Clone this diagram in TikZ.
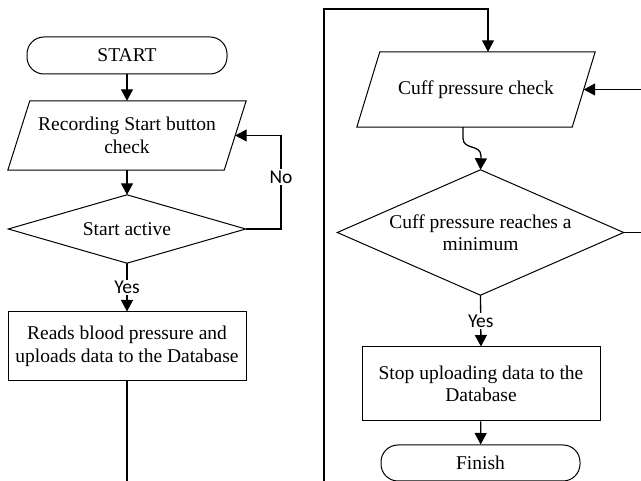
\documentclass[tikz,border=0pt]{standalone}
\usepackage{fontspec}
\setmainfont{Liberation Serif}
\newfontfamily\lblfont{Carlito}
\usetikzlibrary{arrows.meta}
\begin{document}
\begin{tikzpicture}[x=1pt,y=-1pt,
  txt/.style={font=\fontsize{19.5}{22.5}\selectfont, align=center, inner sep=0pt},
  shp/.style={draw=black, line width=1pt},
  term/.style={txt, draw, line width=1pt, rounded corners=17pt},
  proc/.style={txt, draw, line width=1pt},
  ghost/.style={txt, draw=none},
  conn/.style={line width=1.3pt, -{Triangle[length=11.5pt,width=12pt]}},
  plain/.style={line width=1.3pt},
  lbl/.style={font=\lblfont\fontsize{19.5}{22}\selectfont, fill=white, inner sep=1.5pt}
]
\useasboundingbox (0,0) rectangle (641,481);
\clip (0,0) rectangle (641,481);

% left column
\node[term, minimum width=200pt, minimum height=37pt] (start) at (127,55.5) {START};
\node[ghost, minimum width=216pt, minimum height=69pt] (rec) at (127,135.5) {Recording Start button\\check};
\draw[shp] ([xshift=11pt]rec.north west) -- ([xshift=11pt]rec.north east) -- ([xshift=-11pt]rec.south east) -- ([xshift=-11pt]rec.south west) -- cycle;
\node[ghost, minimum width=237pt, minimum height=68pt] (sa) at (127,229) {Start active};
\draw[shp] (sa.north) -- (sa.east) -- (sa.south) -- (sa.west) -- cycle;
\node[proc, minimum width=238pt, minimum height=69pt] (reads) at (127,346.5) {Reads blood pressure and\\uploads data to the Database};

% right column
\node[ghost, minimum width=215pt, minimum height=75pt] (cuff) at (476,89.5) {Cuff pressure check};
\draw[shp] ([xshift=11.5pt]cuff.north west) -- ([xshift=11.5pt]cuff.north east) -- ([xshift=-11.5pt]cuff.south east) -- ([xshift=-11.5pt]cuff.south west) -- cycle;
\node[ghost, minimum width=286pt, minimum height=125pt] (cm) at (480.5,232.5) {Cuff pressure reaches a\\minimum};
\draw[shp] (cm.north) -- (cm.east) -- (cm.south) -- (cm.west) -- cycle;
\node[proc, minimum width=238pt, minimum height=74pt] (stop) at (481,384) {Stop uploading data to the\\Database};
\node[term, minimum width=199pt, minimum height=36pt] (fin) at (480.5,463) {Finish};

% free ends
\coordinate (lb) at (127,495);
\coordinate (rb) at (324,495);
\coordinate (tl) at (324,9);
\coordinate (tr) at (488,9);
\coordinate (re1) at (660,232.5);
\coordinate (re2) at (660,89.5);
\coordinate (nbot) at (281,229);
\coordinate (ntop) at (281,135.5);

% connectors
\draw[conn] (start) -- (rec);
\draw[conn] (rec) -- (sa);
\draw[conn] (sa.east) -- (nbot) -- (ntop) -- (rec.east);
\node[lbl] at (281,177) {No};
\draw[conn] (sa.south) -- node[lbl] {Yes} (reads.north);
\draw[plain] (reads.south) -- (lb);

\draw[conn] (rb) -- (tl) -- (tr) -- (tr |- cuff.north);
\draw[conn] ([xshift=-13pt]cuff.south) -- ++(0,11) .. controls ++(0,12) and (481,144) .. (481,156) -- (cm.north);
\draw[conn] (cm.south) -- node[lbl] {Yes} (stop.north);
\draw[conn] (stop) -- (fin);
\draw[plain] (cm.east) -- (re1);
\draw[conn] (re2) -- (cuff.east);
\end{tikzpicture}
\end{document}
